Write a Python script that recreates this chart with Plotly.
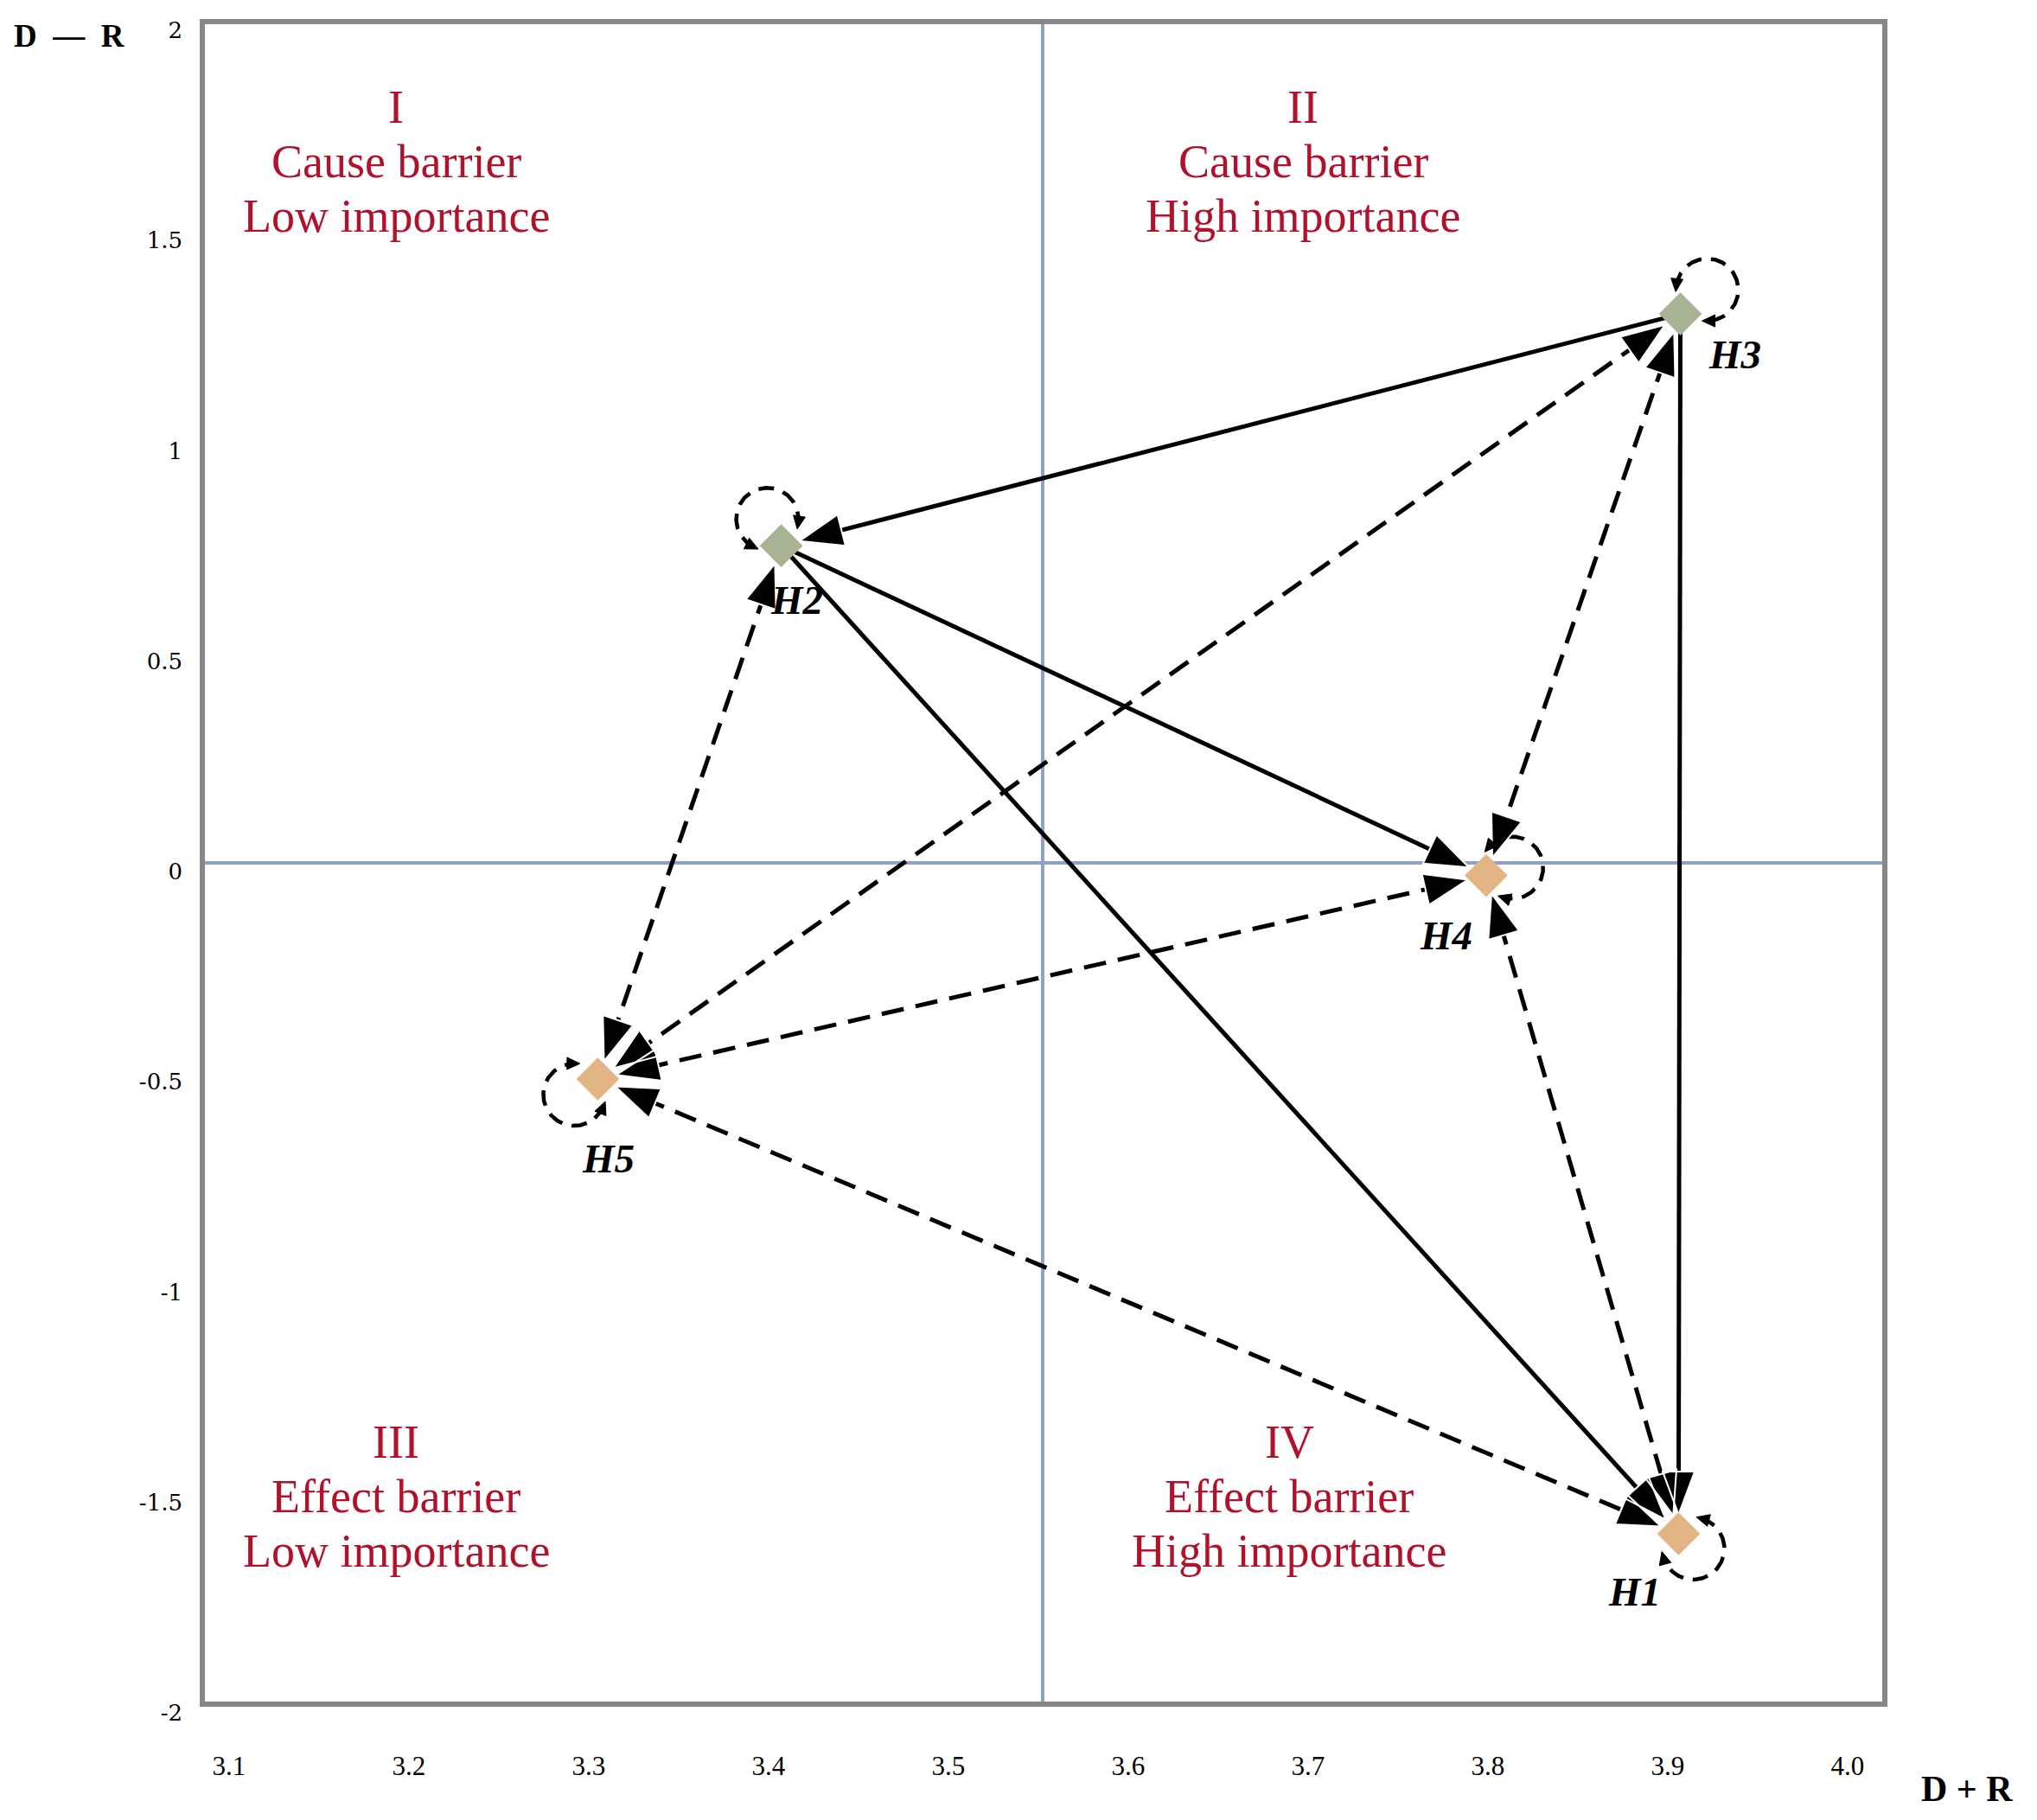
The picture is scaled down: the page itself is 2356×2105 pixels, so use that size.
import numpy as np
import plotly.graph_objects as go

# ---------------- data ----------------
nodes = ["H1", "H2", "H3", "H4", "H5"]
d_plus_r = [3.906, 3.407, 3.907, 3.799, 3.305]
d_minus_r = [-1.595, 0.754, 1.305, -0.030, -0.514]

x_tick_vals = [3.1, 3.2, 3.3, 3.4, 3.5, 3.6, 3.7, 3.8, 3.9, 4.0]
x_tick_text = ["3.1", "3.2", "3.3", "3.4", "3.5", "3.6", "3.7", "3.8", "3.9", "4.0"]
y_tick_vals = [2, 1.5, 1, 0.5, 0, -0.5, -1, -1.5, -2]
y_tick_text = ["2", "1.5", "1", "0.5", "0", "-0.5", "-1", "-1.5", "-2"]

x_split = 3.5524
y_split = 0.0

solid_links = [("H3", "H2"), ("H2", "H4"), ("H2", "H1"), ("H3", "H1")]
dashed_links = [("H3", "H5"), ("H3", "H4"), ("H2", "H5"), ("H5", "H4"), ("H5", "H1"), ("H4", "H1")]
self_loop_nodes = ["H1", "H2", "H3", "H4", "H5"]

quadrant_text = {
    "I": ["I", "Cause barrier", "Low importance"],
    "II": ["II", "Cause barrier", "High importance"],
    "III": ["III", "Effect barrier", "Low importance"],
    "IV": ["IV", "Effect barrier", "High importance"],
}

# ---------------- layout constants ----------------
BODY = 8  # default page body margin
W, H = 2356, 2105
PL, PR, PT, PB = 234, 2180, 25, 1971  # plot area in page pixels
XR = [3.0851, 4.0207]
YR = [-2.0, 2.0]
PW = PR - PL
PH = PB - PT

CAUSE_COLOR = "#A7B494"
EFFECT_COLOR = "#E4B584"
QUAD_COLOR = "#B0122C"
AXISLINE = "#8FA1C4"

label_off = {"H1": (-51, 67), "H2": (18, 63), "H3": (63, 47), "H4": (-46, 69), "H5": (12, 92)}
loop_off = {"H1": (17, 17), "H2": (-16, -31), "H3": (31, -28), "H4": (30, -9), "H5": (-27, 18)}
LOOP_R = 36
LOOP_GAP = 31

HEAD_L, HEAD_W = 50, 37
TIP_GAP = 22
START_GAP = 14


def to_px(x, y):
    return np.array([(x - XR[0]) / (XR[1] - XR[0]) * PW, (YR[1] - y) / (YR[1] - YR[0]) * PH])


def to_data(p):
    return (XR[0] + p[0] / PW * (XR[1] - XR[0]), YR[1] - p[1] / PH * (YR[1] - YR[0]))


def paper(px, py):
    return (px - PL) / PW, (PB - py) / PH


pos = {n: to_px(x, y) for n, x, y in zip(nodes, d_plus_r, d_minus_r)}


def tri(tip, u, hl, hw):
    n = np.array([-u[1], u[0]])
    bc = tip - u * hl
    pts = [tip, bc + n * hw / 2, bc - n * hw / 2, tip]
    return [to_data(p) for p in pts]


solid_x, solid_y = [], []
dash_x, dash_y = [], []
head_x, head_y = [], []
loop_x, loop_y = [], []
lhead_x, lhead_y = [], []


def add_seg(xs, ys, p0, p1):
    a = to_data(p0)
    b = to_data(p1)
    xs += [a[0], b[0], None]
    ys += [a[1], b[1], None]


def add_head(pts):
    for p in pts:
        head_x.append(p[0])
        head_y.append(p[1])
    head_x.append(None)
    head_y.append(None)


for a, b in solid_links:
    A, B = pos[a], pos[b]
    u = (B - A) / np.linalg.norm(B - A)
    tip = B - u * TIP_GAP
    add_seg(solid_x, solid_y, A + u * START_GAP, tip - u * HEAD_L * 0.7)
    add_head(tri(tip, u, HEAD_L, HEAD_W))

for a, b in dashed_links:
    A, B = pos[a], pos[b]
    u = (B - A) / np.linalg.norm(B - A)
    tipB = B - u * TIP_GAP
    tipA = A + u * TIP_GAP
    add_seg(dash_x, dash_y, tipA + u * HEAD_L * 0.7, tipB - u * HEAD_L * 0.7)
    add_head(tri(tipB, u, HEAD_L, HEAD_W))
    add_head(tri(tipA, -u, HEAD_L, HEAD_W))

for n in self_loop_nodes:
    P = pos[n]
    C = P + np.array(loop_off[n], dtype=float)
    th = np.arctan2(P[1] - C[1], P[0] - C[0])
    phi = th + np.linspace(0, 2 * np.pi, 721)
    pts = np.stack([C[0] + LOOP_R * np.cos(phi), C[1] + LOOP_R * np.sin(phi)], axis=1)
    dist = np.linalg.norm(pts - P, axis=1)
    pts = pts[dist > LOOP_GAP]
    for p in pts:
        d = to_data(p)
        loop_x.append(d[0])
        loop_y.append(d[1])
    loop_x.append(None)
    loop_y.append(None)
    for e0, e1 in ((pts[0], pts[6]), (pts[-1], pts[-7])):
        u = (e0 - e1) / np.linalg.norm(e0 - e1)
        for q in tri(e0 + u * 5, u, 15, 14):
            lhead_x.append(q[0])
            lhead_y.append(q[1])
        lhead_x.append(None)
        lhead_y.append(None)

fig = go.Figure()

fig.add_trace(go.Scatter(x=solid_x, y=solid_y, mode="lines",
                         line=dict(color="black", width=5), hoverinfo="skip", showlegend=False))
fig.add_trace(go.Scatter(x=dash_x, y=dash_y, mode="lines",
                         line=dict(color="black", width=5, dash="26px,14px"), hoverinfo="skip", showlegend=False))
fig.add_trace(go.Scatter(x=loop_x, y=loop_y, mode="lines",
                         line=dict(color="black", width=4.5, dash="18px,11px"), hoverinfo="skip", showlegend=False))
fig.add_trace(go.Scatter(x=head_x, y=head_y, mode="lines", fill="toself", fillcolor="black",
                         line=dict(color="white", width=2), hoverinfo="skip", showlegend=False))
fig.add_trace(go.Scatter(x=lhead_x, y=lhead_y, mode="lines", fill="toself", fillcolor="black",
                         line=dict(color="black", width=1), hoverinfo="skip", showlegend=False))

node_colors = [CAUSE_COLOR if v > 0 else EFFECT_COLOR for v in d_minus_r]
fig.add_trace(go.Scatter(x=d_plus_r, y=d_minus_r, mode="markers", text=nodes,
                         marker=dict(symbol="diamond", size=36, color=node_colors,
                                     line=dict(color=node_colors, width=2)),
                         showlegend=False))

annotations = []
for n, x, y in zip(nodes, d_plus_r, d_minus_r):
    dx, dy = label_off[n]
    annotations.append(dict(x=x, y=y, xref="x", yref="y", text=n, showarrow=False,
                            xshift=dx, yshift=-dy,
                            font=dict(family="Liberation Serif", size=47, color="black",
                                      weight="bold", style="italic")))

quad_pos = {"I": (458, 124), "II": (1507, 124), "III": (458, 1668), "IV": (1491, 1668)}
for q, lines in quadrant_text.items():
    cx, cy = quad_pos[q]
    for i, t in enumerate(lines):
        px_, py_ = paper(cx, cy + i * 63)
        annotations.append(dict(x=px_, y=py_, xref="paper", yref="paper",
                                text=t, showarrow=False, xanchor="center", yanchor="middle",
                                font=dict(family="Liberation Serif", size=54, color=QUAD_COLOR)))

ax_, ay_ = paper(80, 41)
annotations.append(dict(x=ax_, y=ay_, xref="paper", yref="paper",
                        text="D\u2002\u2014\u2002R", showarrow=False, xanchor="center", yanchor="middle",
                        font=dict(family="Liberation Serif", size=37, color="black", weight="bold")))
bx_, by_ = paper(2275, 2069)
annotations.append(dict(x=bx_, y=by_, xref="paper", yref="paper",
                        text="D + R", showarrow=False, xanchor="center", yanchor="middle",
                        font=dict(family="Liberation Serif", size=42, color="black", weight="bold")))

shapes = [
    dict(type="line", xref="paper", yref="y", x0=0, x1=1, y0=y_split, y1=y_split,
         line=dict(color=AXISLINE, width=4), layer="below"),
    dict(type="line", xref="x", yref="paper", x0=x_split, x1=x_split, y0=0, y1=1,
         line=dict(color=AXISLINE, width=4), layer="below"),
    dict(type="rect", xref="paper", yref="paper", x0=0, x1=1, y0=0, y1=1,
         line=dict(color="#878787", width=6), layer="above"),
]

fig.update_layout(
    width=W - BODY, height=H - BODY,
    margin=dict(l=PL - BODY, r=W - PR, t=PT - BODY, b=H - PB, pad=0, autoexpand=False),
    paper_bgcolor="white", plot_bgcolor="white",
    annotations=annotations, shapes=shapes,
    showlegend=False,
    xaxis=dict(range=XR, tickvals=x_tick_vals, ticktext=x_tick_text, showgrid=False, zeroline=False,
               showline=False, ticks="", ticklabelstandoff=50, automargin=False,
               tickfont=dict(family="Liberation Serif", size=31, color="black")),
    yaxis=dict(range=YR, tickvals=y_tick_vals, ticktext=y_tick_text, showgrid=False, zeroline=False,
               showline=False, ticks="", ticklabelstandoff=22, ticklabelshift=10, automargin=False,
               tickfont=dict(family="DejaVu Serif", size=26, color="black")),
)

fig.write_html("out.html")
